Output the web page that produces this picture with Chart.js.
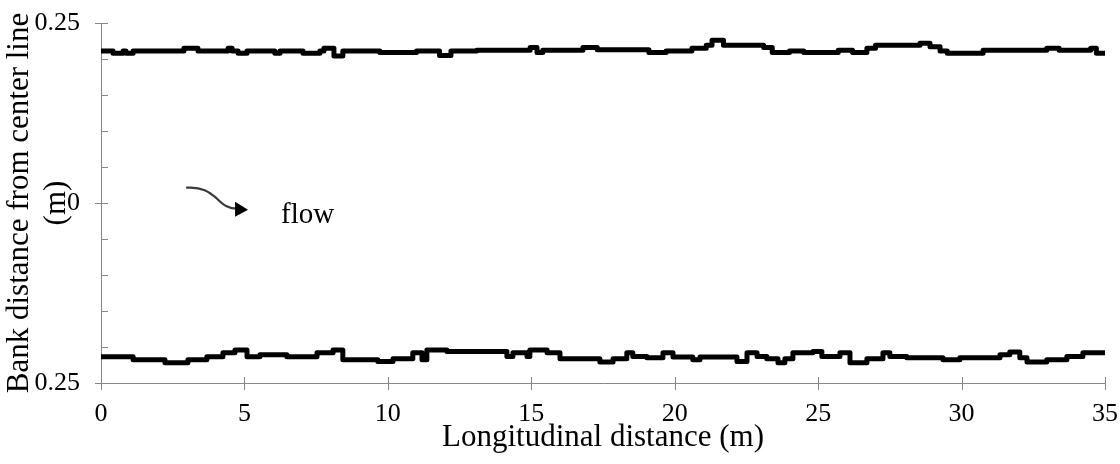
<!DOCTYPE html>
<html>
<head>
<meta charset="utf-8">
<script src="https://cdn.jsdelivr.net/npm/chart.js@4"></script>
<style>
  html, body { margin: 0; padding: 0; background: #fff; }
  #wrap { width: 1120px; height: 464px; }
</style>
</head>
<body>
<div id="wrap"><canvas id="bank-chart" width="1120" height="464"></canvas></div>
<script>
// bank positions: each x is where a new level starts
const topX = [0, 0.42, 0.77, 0.87, 1.12, 2.89, 3.38, 4.43, 4.57, 4.78, 5.09, 6.06, 6.24, 7.04, 7.63, 7.77, 8.12, 8.43, 9.72, 11.0,
  11.8, 12.2, 13.1, 14.96, 15.2, 15.4, 16.8, 17.3, 19.1, 19.7, 20.6, 21.1, 21.3, 21.7, 23.1, 23.4, 24.0, 24.5, 25.7, 26.2,
  26.7, 27.0, 28.55, 28.9, 29.25, 29.5, 30.75, 32.97, 33.4, 34.5, 34.7, 35];
const topY = [0.211, 0.208, 0.211, 0.208, 0.211, 0.215, 0.211, 0.215, 0.211, 0.208, 0.211, 0.208, 0.211, 0.208, 0.211, 0.215, 0.204, 0.211, 0.209, 0.211,
  0.205, 0.211, 0.212, 0.216, 0.209, 0.212, 0.216, 0.213, 0.209, 0.211, 0.215, 0.219, 0.226, 0.219, 0.216, 0.209, 0.211, 0.209, 0.212, 0.209,
  0.215, 0.219, 0.222, 0.217, 0.211, 0.208, 0.212, 0.215, 0.212, 0.215, 0.208, 0.208];

const botX = [0, 1.12, 2.23, 3.03, 3.69, 4.25, 4.67, 5.09, 5.54, 6.48, 7.53, 8.09, 8.43, 9.65, 10.18, 10.87, 11.19, 11.36, 12.06, 14.15,
  14.36, 14.85, 14.95, 15.55, 16.0, 17.39, 17.85, 18.33, 18.54, 19.03, 19.59, 19.94, 20.63, 20.88, 22.17, 22.52, 22.87, 23.21, 23.6, 23.84,
  24.12, 24.82, 25.13, 25.76, 26.11, 26.7, 27.26, 27.5, 28.09, 29.35, 29.94, 31.34, 31.68, 32.03, 32.28, 32.97, 33.67, 34.23, 35];
const botY = [-0.2135, -0.2176, -0.222, -0.2176, -0.2135, -0.208, -0.204, -0.2135, -0.2107, -0.2135, -0.208, -0.204, -0.2176, -0.22, -0.2162, -0.208, -0.2176, -0.204, -0.2061, -0.2131,
  -0.208, -0.2131, -0.204, -0.208, -0.2162, -0.2208, -0.2162, -0.208, -0.2131, -0.2149, -0.208, -0.214, -0.2176, -0.214, -0.22, -0.208, -0.2131, -0.2162, -0.2218, -0.2162,
  -0.208, -0.2061, -0.2131, -0.208, -0.2218, -0.2162, -0.208, -0.2131, -0.2149, -0.2176, -0.2149, -0.2107, -0.2069, -0.2149, -0.2208, -0.2176, -0.2131, -0.208, -0.208];

const xTicks = [0, 5, 10, 15, 20, 25, 30, 35];
const yMajor = [-0.25, 0, 0.25];
const yMajorLabels = ["0.25", "0", "0.25"];
const yMinor = [-0.2, -0.15, -0.1, -0.05, 0.05, 0.1, 0.15, 0.2];

const SERIF = "'Liberation Serif', 'DejaVu Serif', serif";
const AXIS = "#868686";

// no extra room for label overhang, layout.padding alone places the plot
const noOverhang = s => { s.paddingTop = 0; s.paddingBottom = 0; s.paddingLeft = 0; s.paddingRight = 0; };

// tick marks: majors cross the axis, minors sit inside only
const tickMarks = {
  id: "tickMarks",
  afterDraw(chart) {
    const { ctx, chartArea: a, scales: { x, y } } = chart;
    ctx.save();
    ctx.strokeStyle = AXIS;
    ctx.lineWidth = 1;
    ctx.beginPath();
    yMinor.forEach(v => {
      const p = Math.round(y.getPixelForValue(v)) + 0.5;
      ctx.moveTo(a.left, p); ctx.lineTo(a.left + 7, p);
    });
    yMajor.forEach(v => {
      const p = Math.round(y.getPixelForValue(v)) + 0.5;
      ctx.moveTo(a.left - 6, p); ctx.lineTo(a.left + 7, p);
    });
    xTicks.forEach(v => {
      const p = Math.round(x.getPixelForValue(v)) + 0.5;
      ctx.moveTo(p, a.bottom - 6); ctx.lineTo(p, a.bottom + 7);
    });
    ctx.stroke();
    ctx.restore();
  }
};

// the curly "flow" arrow
const flowNote = {
  id: "flowNote",
  afterDatasetsDraw(chart) {
    const { ctx, scales: { x, y } } = chart;
    const ax = x.getPixelForValue(3.0), ay = y.getPixelForValue(0.0213);
    ctx.save();
    ctx.strokeStyle = "#3a3a3a";
    ctx.lineWidth = 2.2;
    ctx.lineCap = "round";
    ctx.beginPath();
    ctx.moveTo(ax, ay);
    ctx.bezierCurveTo(ax + 15, ay - 1, ax + 22, ay + 4, ax + 30, ay + 11);
    ctx.bezierCurveTo(ax + 37, ay + 18, ax + 42, ay + 21, ax + 50, ay + 21);
    ctx.stroke();
    ctx.fillStyle = "#000";
    ctx.beginPath();
    ctx.moveTo(ax + 48, ay + 14);
    ctx.lineTo(ax + 61, ay + 22);
    ctx.lineTo(ax + 48, ay + 29);
    ctx.closePath();
    ctx.fill();
    ctx.font = "29px " + SERIF;
    ctx.textBaseline = "alphabetic";
    ctx.fillText("flow", ax + 94, ay + 35);
    ctx.restore();
  }
};

const pts = (xs, ys) => xs.map((v, i) => ({ x: v, y: ys[i] }));
const bankLine = {
  borderColor: "#000",
  borderWidth: 5,
  borderJoinStyle: "round",
  borderCapStyle: "round",
  stepped: true,
  pointRadius: 0,
  fill: false
};

new Chart(document.getElementById("bank-chart"), {
  type: "line",
  data: {
    datasets: [
      { ...bankLine, label: "Left bank", data: pts(topX, topY) },
      { ...bankLine, label: "Right bank", data: pts(botX, botY) }
    ]
  },
  options: {
    responsive: false,
    devicePixelRatio: 1,
    animation: false,
    layout: { padding: { top: 23, right: 15, bottom: 0, left: 0 } },
    plugins: { legend: { display: false }, tooltip: { enabled: false } },
    scales: {
      x: {
        type: "linear",
        min: 0, max: 35,
        afterBuildTicks: s => { s.ticks = xTicks.map(v => ({ value: v })); },
        afterFit: s => { s.height = 81; noOverhang(s); },
        grid: { display: false, drawTicks: false },
        border: { display: true, color: AXIS, width: 1 },
        ticks: { padding: 16, color: "#000", maxRotation: 0, font: { family: SERIF, size: 26 } },
        title: {
          display: true, text: "Longitudinal distance (m)", color: "#000",
          font: { family: SERIF, size: 31, lineHeight: 1.2 }, padding: { top: 0, bottom: 8 }
        }
      },
      y: {
        type: "linear",
        min: -0.25, max: 0.25,
        afterBuildTicks: s => { s.ticks = yMajor.map(v => ({ value: v })); },
        afterFit: s => { s.width = 101; noOverhang(s); },
        grid: { display: false, drawTicks: false },
        border: { display: true, color: AXIS, width: 1 },
        ticks: {
          padding: 21, color: "#000", font: { family: SERIF, size: 26 },
          callback: (v, i) => yMajorLabels[i]
        },
        title: {
          display: true, text: ["Bank distance from center line", "(m)"], color: "#000",
          font: { family: SERIF, size: 31, lineHeight: 1.2 }, padding: { top: 1, bottom: 0 }
        }
      }
    }
  },
  plugins: [tickMarks, flowNote]
});
</script>
</body>
</html>
